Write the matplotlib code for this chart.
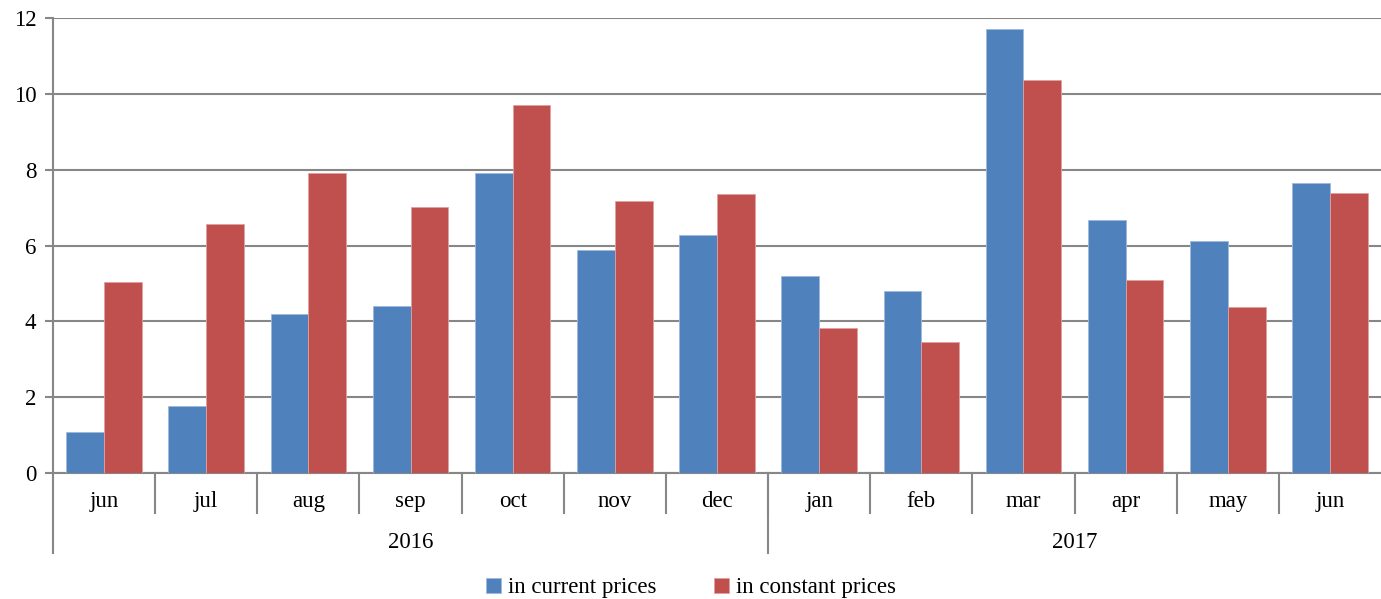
import numpy as np
from matplotlib import pyplot as plt
from matplotlib import transforms

months = ["jun", "jul", "aug", "sep", "oct", "nov", "dec",
          "jan", "feb", "mar", "apr", "may", "jun"]
years = ["2016", "2017"]
year_sizes = [7, 6]
current = [1.08, 1.77, 4.20, 4.41, 7.92, 5.88, 6.28,
           5.20, 4.80, 11.72, 6.66, 6.11, 7.64]
constant = [5.04, 6.57, 7.92, 7.02, 9.71, 7.18, 7.36,
            3.83, 3.46, 10.36, 5.09, 4.39, 7.39]

plt.rcParams['font.family'] = ['Liberation Serif', 'DejaVu Serif']
fs = 16.5
W, H = 1381, 599
fig = plt.figure(figsize=(W / 100, H / 100), dpi=100)
ax = fig.add_axes([53 / W, (H - 473) / H, (W - 53) / W, 455 / H])

x = np.arange(len(months))
bw = 0.37
ax.bar(x - bw / 2, current, bw, color="#4F81BD", edgecolor="#9DB9DC",
       linewidth=0.6, label="in current prices", zorder=3)
ax.bar(x + bw / 2, constant, bw, color="#C0504D", edgecolor="#E0A09E",
       linewidth=0.6, label="in constant prices", zorder=3)

ax.set_xlim(-0.5, len(months) - 0.5)
ax.set_ylim(0, 12)
ax.set_yticks(range(0, 13, 2))
ax.grid(axis="y", color="#878787", linewidth=1.5, zorder=0)
for s in ["top", "right"]:
    ax.spines[s].set_visible(False)
for s in ["left", "bottom"]:
    ax.spines[s].set_color("#878787")
    ax.spines[s].set_linewidth(1.5)
ax.tick_params(axis="y", length=6, width=1.5, color="#878787",
               labelsize=fs, pad=6)
ax.set_xticks(x)
ax.set_xticklabels(months)
ax.tick_params(axis="x", length=0, labelsize=fs, pad=13)

# two-level category axis
trans = transforms.blended_transform_factory(ax.transData, ax.transAxes)
px = 1 / 455
for b in np.arange(0.5, len(months) - 1, 1.0):
    ax.plot([b, b], [0, -40 * px], transform=trans, color="#878787",
            linewidth=1.5, clip_on=False)
start = 0
for yr, n in zip(years, year_sizes):
    left = start - 0.5
    ax.plot([left, left], [0, -80 * px], transform=trans, color="#878787",
            linewidth=1.5, clip_on=False)
    ax.text(start + (n - 1) / 2, -70 * px, yr, transform=trans,
            ha="center", va="center", fontsize=fs)
    start += n

handles, labels = ax.get_legend_handles_labels()
fig.legend(handles, labels, loc="center", bbox_to_anchor=(691 / W, 11 / H),
           ncol=2, frameon=False, fontsize=fs, handlelength=0.65,
           handleheight=0.65, handletextpad=0.3, columnspacing=2.55)

fig.savefig("out.png", dpi=100)
